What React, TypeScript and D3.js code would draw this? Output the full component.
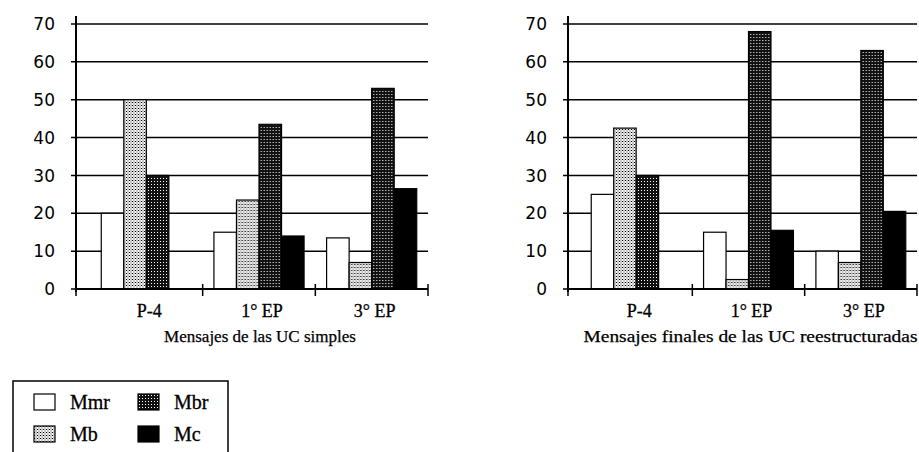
import * as d3 from "d3";

const categories = ["P-4", "1° EP", "3° EP"];
const series = ["Mmr", "Mb", "Mbr", "Mc"];

// Mensajes de las UC simples
const simplesMmr = [20, 15, 13.5];
const simplesMb = [50, 23.5, 7];
const simplesMbr = [30, 43.5, 53];
const simplesMc = [0, 14, 26.5];

// Mensajes finales de las UC reestructuradas
const reestMmr = [25, 15, 10];
const reestMb = [42.5, 2.5, 7];
const reestMbr = [30, 68, 63];
const reestMc = [0, 15.5, 20.5];

const yTicks = [0, 10, 20, 30, 40, 50, 60, 70];

const fills: Record<string, string> = {
  Mmr: "#ffffff",
  Mb: "url(#patMb)",
  Mbr: "url(#patMbr)",
  Mc: "#000000",
};

const serif = "Liberation Serif, serif";
const sans = "DejaVu Sans, sans-serif";

type PanelProps = {
  axisX: number;
  bandStart: number;
  bandEnd: number;
  title: string;
  titleWidth: number;
  values: number[][];
};

const Panel = ({ axisX, bandStart, bandEnd, title, titleWidth, values }: PanelProps) => {
  const y = d3.scaleLinear().domain([0, 70]).range([289, 24]);
  const x0 = d3.scaleBand<string>().domain(categories).range([bandStart, bandEnd]).padding(0);
  const x1 = d3
    .scaleBand<string>()
    .domain(series)
    .range([0, x0.bandwidth()])
    .paddingInner(0)
    .paddingOuter(0.5);

  const tickXs = [axisX, ...categories.map((c) => (x0(c) as number) + x0.bandwidth())];

  return (
    <g>
      {/* lineas horizontales */}
      {yTicks.map((t) => (
        <line
          key={"g" + t}
          x1={axisX - 5}
          x2={bandEnd}
          y1={y(t)}
          y2={y(t)}
          stroke="#000"
          strokeWidth={1.5}
        />
      ))}
      {yTicks.map((t) => (
        <text
          key={"l" + t}
          x={axisX - 21}
          y={y(t)}
          dy="0.36em"
          textAnchor="end"
          fontFamily={sans}
          fontSize={17}
        >
          {t}
        </text>
      ))}
      {/* barras */}
      {categories.map((c, ci) => (
        <g key={c} transform={`translate(${x0(c)},0)`}>
          {series.map((s, si) => {
            const v = values[si][ci];
            if (v <= 0) return null;
            return (
              <rect
                key={s}
                x={x1(s)}
                y={y(v)}
                width={x1.bandwidth()}
                height={y(0) - y(v)}
                fill={fills[s]}
                stroke="#000"
                strokeWidth={1.2}
              />
            );
          })}
        </g>
      ))}
      {/* ejes */}
      <line x1={axisX} x2={axisX} y1={16} y2={292} stroke="#000" strokeWidth={2} />
      <line x1={axisX} x2={bandEnd} y1={y(0)} y2={y(0)} stroke="#000" strokeWidth={2} />
      {tickXs.map((tx, i) => (
        <line key={"t" + i} x1={tx} x2={tx} y1={284} y2={296} stroke="#000" strokeWidth={1.5} />
      ))}
      {categories.map((c) => (
        <text
          key={"c" + c}
          x={(x0(c) as number) + x0.bandwidth() / 2 + 3}
          y={317}
          textAnchor="middle"
          fontFamily={serif}
          fontSize={18}
          stroke="#000"
          strokeWidth={0.3}
        >
          {c}
        </text>
      ))}
      <text
        x={(axisX + bandEnd) / 2 + 8}
        y={342}
        textAnchor="middle"
        fontFamily={serif}
        fontSize={17}
        textLength={titleWidth}
        lengthAdjust="spacingAndGlyphs"
        stroke="#000"
        strokeWidth={0.25}
      >
        {title}
      </text>
    </g>
  );
};

const legendItems = [
  { name: "Mmr", col: 0, row: 0 },
  { name: "Mbr", col: 1, row: 0 },
  { name: "Mb", col: 0, row: 1 },
  { name: "Mc", col: 1, row: 1 },
];

const App = () => {
  return (
    <svg
      width={919}
      height={452}
      style={{ position: "absolute", left: 0, top: 0, background: "#fff" }}
    >
      <defs>
        <pattern id="patMb" width={3} height={3} patternUnits="userSpaceOnUse">
          <rect width={3} height={3} fill="#fff" />
          <rect x={0} y={0} width={1} height={1} fill="#000" />
          <rect x={1.5} y={1.5} width={1} height={1} fill="#222" />
          <rect x={1.5} y={0} width={1} height={1} fill="#999" />
        </pattern>
        <pattern id="patMbr" width={3} height={3} patternUnits="userSpaceOnUse">
          <rect width={3} height={3} fill="#111" />
          <rect x={1} y={1} width={1} height={1} fill="#fff" />
        </pattern>
      </defs>
      <rect width={919} height={452} fill="#fff" />
      <Panel
        axisX={76}
        bandStart={90}
        bandEnd={428}
        title="Mensajes de las UC simples"
        titleWidth={192}
        values={[simplesMmr, simplesMb, simplesMbr, simplesMc]}
      />
      <Panel
        axisX={568}
        bandStart={580}
        bandEnd={917}
        title="Mensajes finales de las UC reestructuradas"
        titleWidth={334}
        values={[reestMmr, reestMb, reestMbr, reestMc]}
      />
      {/* leyenda */}
      <rect x={13} y={381} width={215} height={80} fill="none" stroke="#000" strokeWidth={1.5} />
      {legendItems.map((it) => (
        <g key={it.name} transform={`translate(${34 + it.col * 104},${394 + it.row * 32})`}>
          <rect width={21} height={16} fill={fills[it.name]} stroke="#000" strokeWidth={1.2} />
          <text
            x={36}
            y={15}
            fontFamily={serif}
            fontSize={20}
            stroke="#000"
            strokeWidth={0.3}
          >
            {it.name}
          </text>
        </g>
      ))}
    </svg>
  );
};

export default App;
